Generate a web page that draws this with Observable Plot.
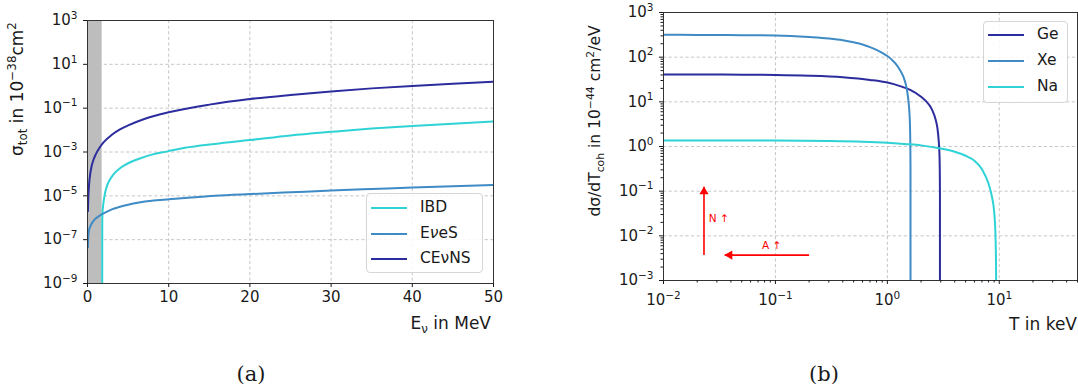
<!DOCTYPE html>
<html>
<head>
<meta charset="utf-8">
<script src="https://cdn.jsdelivr.net/npm/d3@7"></script>
<script src="https://cdn.jsdelivr.net/npm/@observablehq/plot@0.6"></script>
<style>
html,body{margin:0;padding:0;background:#fff;overflow:hidden;}
#fig{position:relative;width:1078px;height:387px;font-family:"DejaVu Sans",sans-serif;color:#1a1a1a;overflow:hidden;}
#fig svg{position:absolute;top:0;overflow:visible;}
.legend{position:absolute;box-sizing:border-box;border:1px solid #d6d6d6;border-radius:4px;background:rgba(255,255,255,0.85);}
.legend .swatch{position:absolute;height:2px;width:36px;transform:translateY(-1px);}
.legend .label{position:absolute;font-size:15.5px;line-height:1;transform:translateY(-52%);white-space:nowrap;}
.caption{position:absolute;font-family:"DejaVu Serif","Liberation Serif",serif;font-size:21px;line-height:1;text-align:center;width:60px;}
</style>
</head>
<body>
<div id="fig"></div>
<script>
// ---------------- panel (a): total cross sections ----------------
const leftSeries = ["IBD", "EνeS", "CEνNS"];
const leftColors = ["#2fd3d6", "#3e8bc6", "#2c2c9e"];

const ibdEnergy = [1.806, 1.82, 1.85, 1.9, 1.97, 2.08, 2.18, 2.35, 2.59, 3.0, 3.41, 4.0, 4.64, 5.4, 6.28, 7.93, 9.85, 12, 15.7, 20, 25, 30, 35, 40, 45, 50];
const ibdSigma  = [1e-10, 8e-7, 1.8e-6, 3e-6, 5e-6, 9e-6, 1.45e-5, 2.5e-5, 4.2e-5, 7.5e-5, 1.17e-4, 1.8e-4, 2.57e-4, 3.6e-4, 4.8e-4, 7.6e-4, 1.07e-3, 1.55e-3, 2.34e-3, 3.5e-3, 5.7e-3, 8.3e-3, 1.17e-2, 1.53e-2, 1.95e-2, 2.45e-2];

const eveEnergy = [0.05, 0.1, 0.2, 0.35, 0.5, 0.75, 1, 1.5, 1.77, 2, 3, 3.8, 5, 7.9, 10, 12, 15.7, 20, 25, 30, 35, 40, 45, 50];
const eveSigma  = [4.5e-8, 1.5e-7, 2.8e-7, 4e-7, 5.3e-7, 7.3e-7, 9.2e-7, 1.25e-6, 1.45e-6, 1.6e-6, 2.4e-6, 3.0e-6, 3.9e-6, 5.9e-6, 6.9e-6, 7.9e-6, 1.0e-5, 1.2e-5, 1.45e-5, 1.75e-5, 2.05e-5, 2.4e-5, 2.75e-5, 3.1e-5];

const cevnsEnergy = [0.05, 0.1, 0.2, 0.35, 0.5, 0.75, 1, 1.5, 2, 3, 4, 5, 7, 10, 15, 20, 25, 30, 35, 40, 45, 50];
const cevnsSigma  = [2e-6, 8e-6, 3.5e-5, 1.1e-4, 2.2e-4, 4.6e-4, 7.6e-4, 1.6e-3, 2.8e-3, 6.1e-3, 1.07e-2, 1.63e-2, 3.2e-2, 6.5e-2, 0.145, 0.26, 0.40, 0.58, 0.80, 1.04, 1.31, 1.62];

const thresholdBand = [{from: 0, to: 1.806}];

const leftXDomain = [0, 50];
const leftYDomain = [1e-9, 1e3];
const leftXTicks = [0, 10, 20, 30, 40, 50];
const leftYTicks = [1e3, 1e1, 1e-1, 1e-3, 1e-5, 1e-7, 1e-9];
const leftYTickLabels = ["10^3", "10^1", "10^−1", "10^−3", "10^−5", "10^−7", "10^−9"];

// ---------------- panel (b): differential CEvNS cross sections ----------------
const rightSeries = ["Ge", "Xe", "Na"];
const rightColors = ["#2c2c9e", "#3e8bc6", "#2fd3d6"];

const geRecoil = [0.01, 0.02, 0.05, 0.1, 0.2, 0.4, 0.7, 1.0, 1.3, 1.6, 2.0, 2.3, 2.5, 2.7, 2.8, 2.88, 2.92, 2.94, 2.95, 2.953];
const geRate   = [41, 41, 40.5, 40, 38.5, 35.5, 31, 27, 22.5, 18.5, 13, 9.3, 6.8, 4.0, 2.6, 1.3, 0.7, 0.3, 0.1, 1e-5];

const xeRecoil = [0.01, 0.02, 0.05, 0.1, 0.2, 0.3, 0.4, 0.5, 0.6, 0.7, 0.8, 0.9, 1.0, 1.1, 1.2, 1.3, 1.4, 1.46, 1.5, 1.55, 1.58, 1.595, 1.605, 1.61, 1.612];
const xeRate   = [316, 315, 311, 305, 282, 262, 240, 215, 192, 168, 146, 125, 106, 87, 69, 51, 35, 25, 18, 9.5, 5, 2.6, 1.0, 0.3, 1e-5];

const naRecoil = [0.01, 0.03, 0.1, 0.3, 0.6, 1.0, 1.5, 2.0, 3.0, 4.0, 5.0, 6.0, 7.0, 8.0, 8.6, 9.0, 9.2, 9.3, 9.35, 9.37, 9.38];
const naRate   = [1.37, 1.37, 1.36, 1.33, 1.28, 1.21, 1.13, 1.06, 0.9, 0.76, 0.62, 0.48, 0.31, 0.15, 0.075, 0.035, 0.015, 0.006, 0.0025, 0.001, 1e-6];

const arrowSegments = [
  {x1: 0.023, y1: 0.0037, x2: 0.023, y2: 0.126},
  {x1: 0.2, y1: 0.0037, x2: 0.0352, y2: 0.0037}
];
const arrowLabels = [
  {x: 0.0254, y: 0.024, text: "N ↑"},
  {x: 0.0757, y: 0.0059, text: "A ↑"}
];

const rightXDomain = [0.01, 50];
const rightYDomain = [1e-3, 1e3];
const rightXTicks = [0.01, 0.1, 1, 10];
const rightXTickLabels = ["10^−2", "10^−1", "10^0", "10^1"];
const rightYTicks = [1e-3, 1e-2, 1e-1, 1, 1e1, 1e2, 1e3];
const rightYTickLabels = ["10^−3", "10^−2", "10^−1", "10^0", "10^1", "10^2", "10^3"];

// ---------------- helpers ----------------
const FONT = "DejaVu Sans";
const GRID = "#bfbfbf";
const INK = "#1a1a1a";
const SVGNS = "http://www.w3.org/2000/svg";

function makeTable(names, xs, ys) {
  return names.flatMap((name, k) => xs[k].map((x, i) => ({series: name, x, y: ys[k][i]})));
}
function lookup(ticks, labels) {
  return d => { const i = ticks.indexOf(d); return i < 0 ? "" : labels[i]; };
}
function minorTicks(domain) {
  return d3.scaleLog().domain(domain).ticks().filter(v => Math.abs(Math.log10(v) - Math.round(Math.log10(v))) > 1e-6);
}
function applyPowers(svg) {
  svg.querySelectorAll("text").forEach(t => {
    const s = t.textContent;
    const k = s.indexOf("^");
    if (k < 0) return;
    t.textContent = "";
    const a = document.createElementNS(SVGNS, "tspan");
    a.textContent = s.slice(0, k);
    const b = document.createElementNS(SVGNS, "tspan");
    b.textContent = s.slice(k + 1);
    b.setAttribute("font-size", "70%");
    b.setAttribute("dy", "-0.62em");
    t.append(a, b);
  });
}
function richLabel(svg, segs, {x, y, rotate = 0, anchor = "middle", size = 17}) {
  const t = d3.select(svg).append("text")
    .attr("transform", `translate(${x},${y}) rotate(${rotate})`)
    .attr("text-anchor", anchor)
    .attr("font-family", FONT)
    .attr("font-size", size)
    .attr("fill", INK);
  let cur = 0;
  for (const [s, kind] of segs) {
    const target = kind === "sup" ? -0.42 * size : kind === "sub" ? 0.26 * size : 0;
    const ts = t.append("tspan").attr("dy", target - cur).text(s);
    if (kind) ts.attr("font-size", size * 0.7);
    cur = target;
  }
}
function legendBox(fig, names, colors, {left, top, width, height, rows}) {
  const box = document.createElement("div");
  box.className = "legend";
  Object.assign(box.style, {left: left + "px", top: top + "px", width: width + "px", height: height + "px"});
  names.forEach((name, i) => {
    const sw = document.createElement("div");
    sw.className = "swatch";
    Object.assign(sw.style, {left: "4px", top: rows[i] + "px", background: colors[i]});
    const lb = document.createElement("div");
    lb.className = "label";
    Object.assign(lb.style, {left: "53px", top: rows[i] + "px"});
    // the ν of "EνeS" is set in math italic in the original
    const m = name.match(/^(E)(ν)(e.*)$/);
    if (m) {
      const it = document.createElement("i");
      it.textContent = m[2];
      lb.append(m[1], it, m[3]);
    } else {
      lb.textContent = name;
    }
    box.append(sw, lb);
  });
  fig.append(box);
}

const fig = document.getElementById("fig");

// ---------------- build panel (a) ----------------
const leftTable = makeTable(leftSeries, [ibdEnergy, eveEnergy, cevnsEnergy], [ibdSigma, eveSigma, cevnsSigma]);
const gridStyle = {stroke: GRID, strokeOpacity: 1, strokeDasharray: "3.2,2.4", strokeWidth: 0.9};

const left = Plot.plot({
  width: 540, height: 340,
  marginLeft: 87, marginRight: 47, marginTop: 20, marginBottom: 57,
  style: {fontFamily: FONT, background: "transparent", color: INK},
  x: {domain: leftXDomain},
  y: {type: "log", domain: leftYDomain},
  color: {domain: leftSeries, range: leftColors},
  marks: [
    Plot.rect(thresholdBand, {x1: "from", x2: "to", y1: leftYDomain[0], y2: leftYDomain[1], fill: "#bdbdbd"}),
    Plot.gridX({ticks: leftXTicks.slice(1, -1), ...gridStyle}),
    Plot.gridY({ticks: leftYTicks.slice(1, -1), ...gridStyle}),
    Plot.line(leftTable, {x: "x", y: "y", z: "series", stroke: "series", strokeWidth: 2, curve: "monotone-x", clip: true}),
    Plot.frame({stroke: "#333", strokeWidth: 1}),
    Plot.axisX({ticks: leftXTicks, tickSize: 4, tickPadding: 4, fontSize: 15, label: null}),
    Plot.axisY({ticks: leftYTicks, tickFormat: lookup(leftYTicks, leftYTickLabels), tickSize: 4, tickPadding: 6, fontSize: 15, label: null})
  ]
});
left.style.left = "0px";
fig.append(left);
applyPowers(left);
richLabel(left, [["σ", ""], ["tot", "sub"], [" in 10", ""], ["−38", "sup"], ["cm", ""], ["2", "sup"]], {x: 23, y: 89, rotate: -90});
richLabel(left, [["E", ""], ["ν", "sub"], [" in MeV", ""]], {x: 491, y: 329, anchor: "end"});
legendBox(fig, leftSeries, leftColors, {left: 366, top: 193, width: 117, height: 80, rows: [14, 39.5, 65]});

// ---------------- build panel (b) ----------------
const rightTable = makeTable(rightSeries, [geRecoil, xeRecoil, naRecoil], [geRate, xeRate, naRate]);

const right = Plot.plot({
  width: 538, height: 340,
  marginLeft: 123, marginRight: 1, marginTop: 12, marginBottom: 60,
  style: {fontFamily: FONT, background: "transparent", color: INK},
  x: {type: "log", domain: rightXDomain},
  y: {type: "log", domain: rightYDomain},
  color: {domain: rightSeries, range: rightColors},
  marks: [
    Plot.gridX({ticks: rightXTicks.slice(1), ...gridStyle}),
    Plot.gridY({ticks: rightYTicks.slice(1, -1), ...gridStyle}),
    Plot.line(rightTable, {x: "x", y: "y", z: "series", stroke: "series", strokeWidth: 2, curve: "monotone-x", clip: true}),
    Plot.link(arrowSegments, {x1: "x1", y1: "y1", x2: "x2", y2: "y2", stroke: "red", strokeWidth: 1.6}),
    Plot.dot(arrowSegments.filter(d => d.x1 === d.x2), {x: "x2", y: "y2", symbol: "triangle", r: 3.4, fill: "red", stroke: "none", dy: 5}),
    Plot.dot(arrowSegments.filter(d => d.y1 === d.y2), {x: "x2", y: "y2", symbol: "triangle", r: 3.4, fill: "red", stroke: "none", rotate: -90, dx: 5}),
    Plot.text(arrowLabels, {x: "x", y: "y", text: "text", fill: "red", fontSize: 10.5, textAnchor: "start"}),
    Plot.frame({stroke: "#333", strokeWidth: 1}),
    Plot.axisX({ticks: minorTicks(rightXDomain), tickSize: 2.5, tickFormat: () => "", label: null}),
    Plot.axisY({ticks: minorTicks(rightYDomain), tickSize: 2.5, tickFormat: () => "", label: null}),
    Plot.axisX({ticks: rightXTicks, tickFormat: lookup(rightXTicks, rightXTickLabels), tickSize: 4, tickPadding: 10, fontSize: 15, label: null}),
    Plot.axisY({ticks: rightYTicks, tickFormat: lookup(rightYTicks, rightYTickLabels), tickSize: 4, tickPadding: 6, fontSize: 15, label: null})
  ]
});
right.style.left = "540px";
fig.append(right);
applyPowers(right);
richLabel(right, [["dσ/dT", ""], ["coh", "sub"], [" in 10", ""], ["−44", "sup"], [" cm", ""], ["2", "sup"], ["/eV", ""]], {x: 60, y: 121, rotate: -90, size: 15.5});
richLabel(right, [["T in keV", ""]], {x: 537, y: 330, anchor: "end"});
legendBox(fig, rightSeries, rightColors, {left: 983, top: 21, width: 85, height: 82, rows: [12.5, 39, 65]});

// ---------------- captions ----------------
[["(a)", 251], ["(b)", 824]].forEach(([txt, cx]) => {
  const c = document.createElement("div");
  c.className = "caption";
  c.textContent = txt;
  c.style.left = (cx - 30) + "px";
  c.style.top = "364px";
  fig.append(c);
});
</script>
</body>
</html>
